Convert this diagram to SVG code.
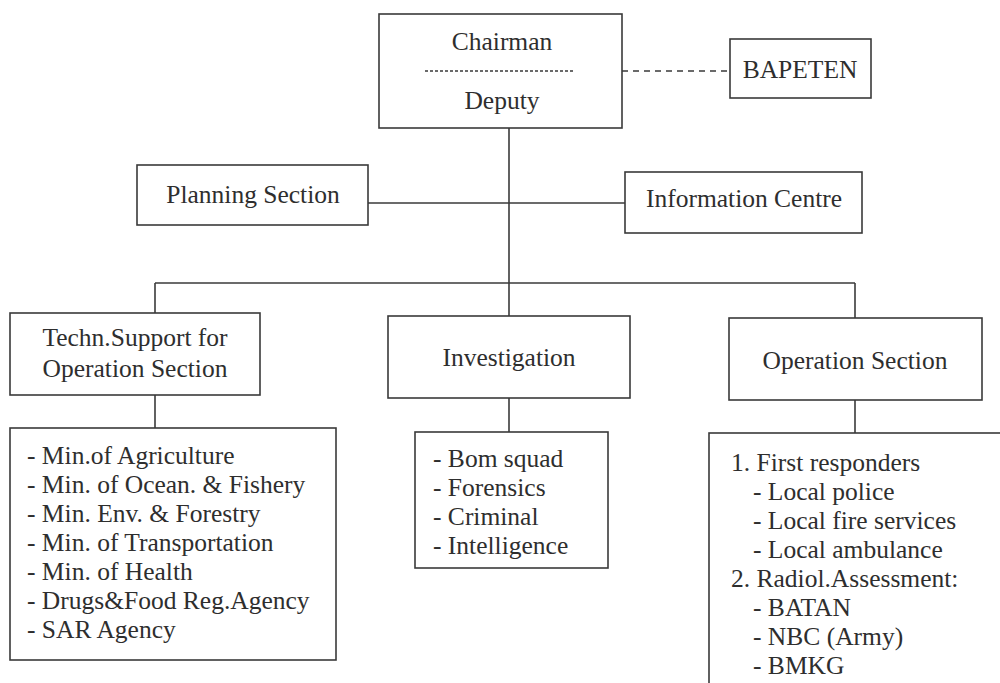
<svg xmlns="http://www.w3.org/2000/svg" width="1000" height="683" viewBox="0 0 1000 683">
<style>
.box{fill:#fff;stroke:#3a3a3a;stroke-width:1.6}
.ln{stroke:#3a3a3a;stroke-width:1.6;fill:none}
.dash{stroke:#3a3a3a;stroke-width:1.6;stroke-dasharray:6,5;fill:none}
.t{font-size:25.5px;fill:#2e2e2e}
.c{text-anchor:middle}
</style>
<rect width="1000" height="683" fill="#fff"/>
<g id="connectors">
<line class="dash" x1="622" y1="71" x2="730" y2="71"/>
<line class="ln" x1="509" y1="128" x2="509" y2="283"/>
<line class="ln" x1="368" y1="203" x2="625" y2="203"/>
<line class="ln" x1="155" y1="283" x2="855" y2="283"/>
<line class="ln" x1="155" y1="283" x2="155" y2="313"/>
<line class="ln" x1="509" y1="283" x2="509" y2="316"/>
<line class="ln" x1="855" y1="283" x2="855" y2="318"/>
<line class="ln" x1="155" y1="395" x2="155" y2="428"/>
<line class="ln" x1="509" y1="398" x2="509" y2="432"/>
<line class="ln" x1="855" y1="400" x2="855" y2="433"/>
</g>
<g class="t" font-family="'Liberation Serif', 'Times New Roman', 'DejaVu Serif', serif">
<g id="chairman">
<rect class="box" x="379" y="14" width="243" height="114"/>
<text class="c" x="502" y="50">Chairman</text>
<line class="dash" x1="425" y1="71" x2="574" y2="71" style="stroke-dasharray:3,2"/>
<text class="c" x="502" y="109">Deputy</text>
</g>
<g id="bapeten">
<rect class="box" x="730" y="39" width="141" height="59"/>
<text class="c" x="800" y="78">BAPETEN</text>
</g>
<g id="planning">
<rect class="box" x="137" y="165" width="231" height="60"/>
<text class="c" x="253" y="203">Planning Section</text>
</g>
<g id="information">
<rect class="box" x="625" y="172" width="237" height="61"/>
<text class="c" x="744" y="207">Information Centre</text>
</g>
<g id="techn">
<rect class="box" x="10" y="313" width="250" height="82"/>
<text class="c" x="135" y="346">Techn.Support for</text>
<text class="c" x="135" y="377">Operation Section</text>
</g>
<g id="investigation">
<rect class="box" x="388" y="316" width="242" height="82"/>
<text class="c" x="509" y="366">Investigation</text>
</g>
<g id="operation">
<rect class="box" x="729" y="318" width="253" height="82"/>
<text class="c" x="855" y="369">Operation Section</text>
</g>
<g id="ministries">
<rect class="box" x="10" y="428" width="326" height="232"/>
<text x="27" y="464">- Min.of Agriculture</text>
<text x="27" y="493">- Min. of Ocean. &amp; Fishery</text>
<text x="27" y="522">- Min. Env. &amp; Forestry</text>
<text x="27" y="551">- Min. of Transportation</text>
<text x="27" y="580">- Min. of Health</text>
<text x="27" y="609">- Drugs&amp;Food Reg.Agency</text>
<text x="27" y="638">- SAR Agency</text>
</g>
<g id="investigation-list">
<rect class="box" x="415" y="432" width="193" height="136"/>
<text x="433" y="467">- Bom squad</text>
<text x="433" y="496">- Forensics</text>
<text x="433" y="525">- Criminal</text>
<text x="433" y="554">- Intelligence</text>
</g>
<g id="operation-list">
<rect class="box" x="709" y="433" width="300" height="260"/>
<text x="731" y="471">1. First responders</text>
<text x="753" y="500">- Local police</text>
<text x="753" y="529">- Local fire services</text>
<text x="753" y="558">- Local ambulance</text>
<text x="731" y="587">2. Radiol.Assessment:</text>
<text x="753" y="616">- BATAN</text>
<text x="753" y="645">- NBC (Army)</text>
<text x="753" y="674">- BMKG</text>
</g>
</g>
</svg>
